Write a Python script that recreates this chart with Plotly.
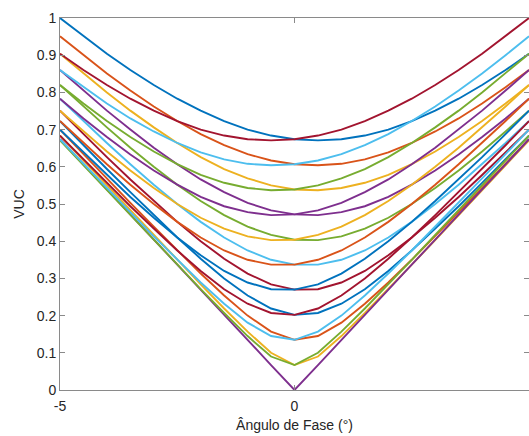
import plotly.graph_objects as go

# Phase angle (degrees)
angle = [-5.0, -4.5, -4.0, -3.5, -3.0, -2.5, -2.0, -1.5, -1.0, -0.5, 0.0,
         0.5, 1.0, 1.5, 2.0, 2.5, 3.0, 3.5, 4.0, 4.5, 5.0]

# VUC curves, in plotting order
vuc_01 = [1.000, 0.951, 0.904, 0.860, 0.820, 0.783, 0.751, 0.723, 0.700, 0.684, 0.674, 0.671, 0.674, 0.684, 0.700, 0.723, 0.751, 0.783, 0.820, 0.860, 0.904]
vuc_02 = [0.951, 0.900, 0.851, 0.805, 0.762, 0.723, 0.688, 0.658, 0.634, 0.617, 0.607, 0.604, 0.608, 0.620, 0.639, 0.664, 0.695, 0.730, 0.770, 0.814, 0.860]
vuc_03 = [0.904, 0.851, 0.800, 0.751, 0.706, 0.664, 0.626, 0.594, 0.569, 0.550, 0.539, 0.537, 0.543, 0.557, 0.578, 0.607, 0.641, 0.680, 0.723, 0.770, 0.820]
vuc_04 = [0.860, 0.805, 0.751, 0.700, 0.651, 0.607, 0.566, 0.532, 0.503, 0.483, 0.472, 0.470, 0.478, 0.494, 0.519, 0.552, 0.590, 0.633, 0.680, 0.730, 0.783]
vuc_05 = [0.820, 0.762, 0.706, 0.651, 0.600, 0.552, 0.508, 0.470, 0.439, 0.417, 0.404, 0.403, 0.413, 0.434, 0.463, 0.500, 0.543, 0.590, 0.641, 0.695, 0.751]
vuc_06 = [0.783, 0.723, 0.664, 0.607, 0.552, 0.500, 0.452, 0.410, 0.375, 0.350, 0.337, 0.337, 0.350, 0.375, 0.410, 0.452, 0.500, 0.552, 0.607, 0.664, 0.723]
vuc_07 = [0.751, 0.688, 0.626, 0.566, 0.508, 0.452, 0.400, 0.353, 0.313, 0.284, 0.270, 0.271, 0.289, 0.320, 0.362, 0.410, 0.463, 0.519, 0.578, 0.639, 0.700]
vuc_08 = [0.723, 0.658, 0.594, 0.532, 0.470, 0.410, 0.353, 0.300, 0.254, 0.219, 0.202, 0.207, 0.232, 0.271, 0.320, 0.375, 0.434, 0.494, 0.557, 0.620, 0.684]
vuc_09 = [0.700, 0.634, 0.569, 0.503, 0.439, 0.375, 0.313, 0.254, 0.200, 0.157, 0.135, 0.145, 0.181, 0.232, 0.289, 0.350, 0.413, 0.478, 0.543, 0.608, 0.674]
vuc_10 = [0.684, 0.617, 0.550, 0.483, 0.417, 0.350, 0.284, 0.219, 0.157, 0.100, 0.067, 0.090, 0.145, 0.207, 0.271, 0.337, 0.403, 0.470, 0.537, 0.604, 0.671]
vuc_11 = [0.674, 0.607, 0.539, 0.472, 0.404, 0.337, 0.270, 0.202, 0.135, 0.067, 0.000, 0.067, 0.135, 0.202, 0.270, 0.337, 0.404, 0.472, 0.539, 0.607, 0.674]
vuc_12 = [0.671, 0.604, 0.537, 0.470, 0.403, 0.337, 0.271, 0.207, 0.145, 0.090, 0.067, 0.100, 0.157, 0.219, 0.284, 0.350, 0.417, 0.483, 0.550, 0.617, 0.684]
vuc_13 = [0.674, 0.608, 0.543, 0.478, 0.413, 0.350, 0.289, 0.232, 0.181, 0.145, 0.135, 0.157, 0.200, 0.254, 0.313, 0.375, 0.439, 0.503, 0.569, 0.634, 0.700]
vuc_14 = [0.684, 0.620, 0.557, 0.494, 0.434, 0.375, 0.320, 0.271, 0.232, 0.207, 0.202, 0.219, 0.254, 0.300, 0.353, 0.410, 0.470, 0.532, 0.594, 0.658, 0.723]
vuc_15 = [0.700, 0.639, 0.578, 0.519, 0.463, 0.410, 0.362, 0.320, 0.289, 0.271, 0.270, 0.284, 0.313, 0.353, 0.400, 0.452, 0.508, 0.566, 0.626, 0.688, 0.751]
vuc_16 = [0.723, 0.664, 0.607, 0.552, 0.500, 0.452, 0.410, 0.375, 0.350, 0.337, 0.337, 0.350, 0.375, 0.410, 0.452, 0.500, 0.552, 0.607, 0.664, 0.723, 0.783]
vuc_17 = [0.751, 0.695, 0.641, 0.590, 0.543, 0.500, 0.463, 0.434, 0.413, 0.403, 0.404, 0.417, 0.439, 0.470, 0.508, 0.552, 0.600, 0.651, 0.706, 0.762, 0.820]
vuc_18 = [0.783, 0.730, 0.680, 0.633, 0.590, 0.552, 0.519, 0.494, 0.478, 0.470, 0.472, 0.483, 0.503, 0.532, 0.566, 0.607, 0.651, 0.700, 0.751, 0.805, 0.860]
vuc_19 = [0.820, 0.770, 0.723, 0.680, 0.641, 0.607, 0.578, 0.557, 0.543, 0.537, 0.539, 0.550, 0.569, 0.594, 0.626, 0.664, 0.706, 0.751, 0.800, 0.851, 0.904]
vuc_20 = [0.860, 0.814, 0.770, 0.730, 0.695, 0.664, 0.639, 0.620, 0.608, 0.604, 0.607, 0.617, 0.634, 0.658, 0.688, 0.723, 0.762, 0.805, 0.851, 0.900, 0.951]
vuc_21 = [0.904, 0.860, 0.820, 0.783, 0.751, 0.723, 0.700, 0.684, 0.674, 0.671, 0.674, 0.684, 0.700, 0.723, 0.751, 0.783, 0.820, 0.860, 0.904, 0.951, 1.000]

series = [vuc_01, vuc_02, vuc_03, vuc_04, vuc_05, vuc_06, vuc_07, vuc_08, vuc_09, vuc_10,
          vuc_11, vuc_12, vuc_13, vuc_14, vuc_15, vuc_16, vuc_17, vuc_18, vuc_19, vuc_20, vuc_21]

colors = ["#0072BD", "#D95319", "#EDB120", "#7E2F8E", "#77AC30", "#4DBEEE", "#A2142F"]

x_tickvals = [-5, 0, 5]
x_ticktext = ["-5", "0", "5"]
y_tickvals = [0, 0.1, 0.2, 0.3, 0.4, 0.5, 0.6, 0.7, 0.8, 0.9, 1]
y_ticktext = ["0", "0.1", "0.2", "0.3", "0.4", "0.5", "0.6", "0.7", "0.8", "0.9", "1"]

fig = go.Figure()
for i, s in enumerate(series):
    fig.add_trace(go.Scatter(x=angle, y=s, mode="lines",
                             line=dict(color=colors[i % 7], width=1.9),
                             showlegend=False, hoverinfo="skip"))

axis_col = "#8a8a8a"
font_col = "#262626"
fig.update_layout(
    width=529, height=436,
    margin=dict(l=60, r=0, t=18, b=46),
    paper_bgcolor="white", plot_bgcolor="white",
    font=dict(family="Liberation Sans, Arial, sans-serif", size=14, color=font_col),
    xaxis=dict(range=[-5, 5], tickvals=x_tickvals, ticktext=x_ticktext,
               showgrid=False, zeroline=False, showline=True, linecolor=axis_col,
               linewidth=1, mirror="ticks", ticks="inside", ticklen=5, tickcolor=axis_col,
               ticklabelstandoff=3,
               title=dict(text="Ângulo de Fase (°)", standoff=7,
                          font=dict(size=14, color=font_col))),
    yaxis=dict(range=[0, 1], tickvals=y_tickvals, ticktext=y_ticktext,
               showgrid=False, zeroline=False, showline=True, linecolor=axis_col,
               linewidth=1, ticks="inside", ticklen=5, tickcolor=axis_col,
               title=dict(text="VUC", standoff=8, font=dict(size=14, color=font_col))),
    yaxis2=dict(range=[0, 1], tickvals=y_tickvals, overlaying="y", side="right",
                showticklabels=False, showgrid=False, zeroline=False, showline=False,
                ticks="inside", ticklen=5, tickcolor=axis_col),
)
fig.add_trace(go.Scatter(x=[None], y=[None], yaxis="y2", showlegend=False, hoverinfo="skip"))

fig.write_html("out.html")
